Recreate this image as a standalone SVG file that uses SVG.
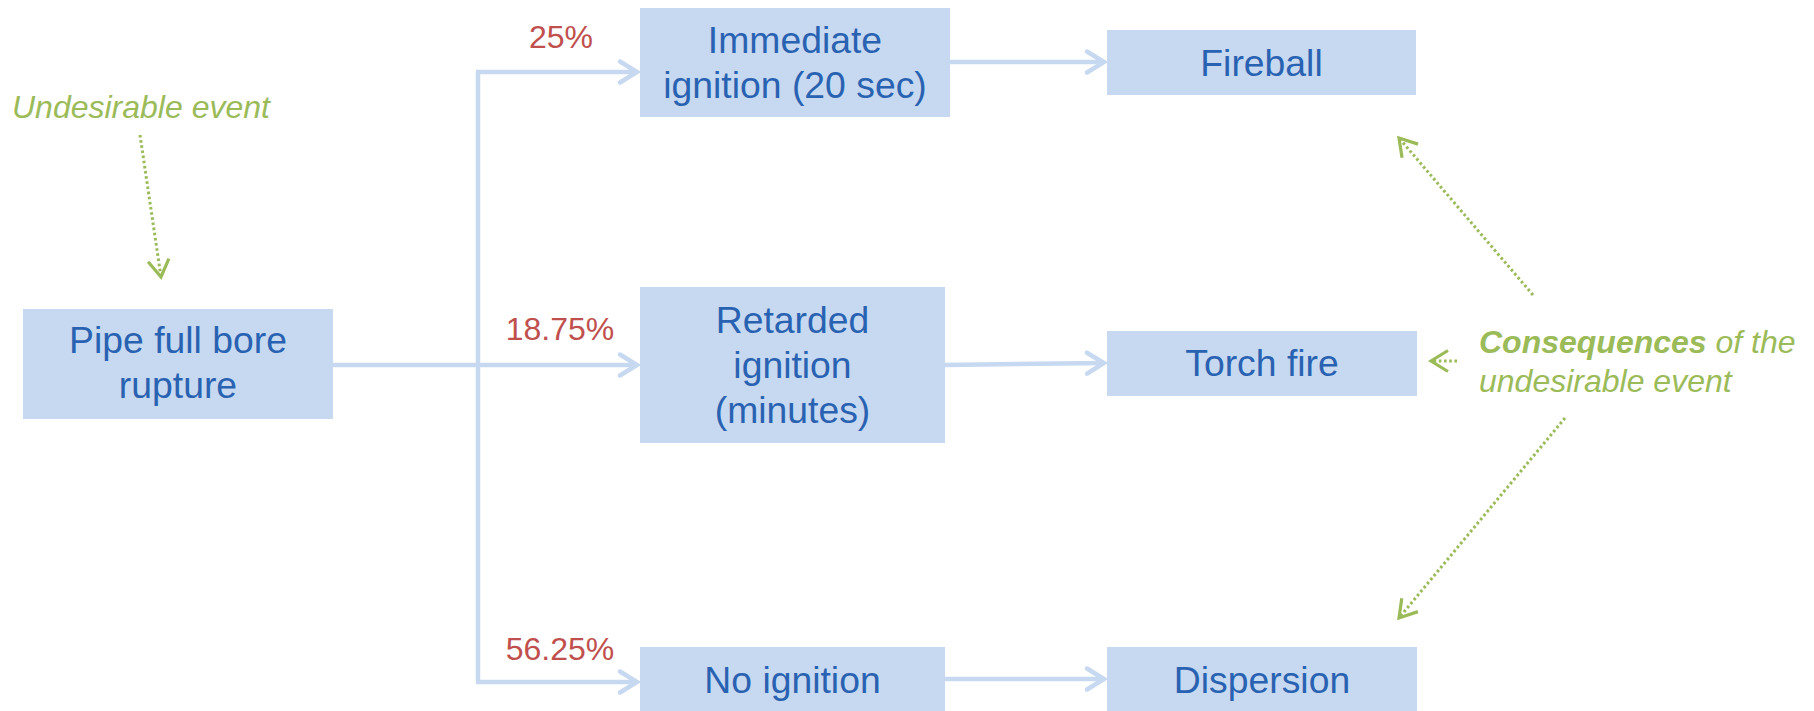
<svg xmlns="http://www.w3.org/2000/svg" width="1814" height="711" viewBox="0 0 1814 711">
<defs>
<style>
.box{fill:#C6D9F1;}
.nt{font-family:"Liberation Sans",Arial,sans-serif;font-size:37.33px;fill:#2A62B2;text-anchor:middle;}
.pct{font-family:"Liberation Sans",Arial,sans-serif;font-size:32px;fill:#C0504D;text-anchor:middle;}
.note{font-family:"Liberation Sans",Arial,sans-serif;font-size:32px;fill:#9BBB59;font-style:italic;}
.conn{fill:none;stroke:#C6D9F1;stroke-width:4.5;stroke-linejoin:miter;marker-end:url(#ah);}
.conn2{fill:none;stroke:#C6D9F1;stroke-width:4.5;stroke-linejoin:miter;}
.dot{fill:none;stroke:#9BBB59;stroke-width:3;stroke-dasharray:2.6 2.6;marker-end:url(#gh);}
</style>
<marker id="ah" markerUnits="userSpaceOnUse" orient="auto" markerWidth="40" markerHeight="40" refX="0" refY="0" viewBox="-25 -20 30 40" overflow="visible">
<path d="M -17 -10.5 L 0 0 L -17 10.5" fill="none" stroke="#C6D9F1" stroke-width="4.5" stroke-linecap="round"/>
</marker>
<marker id="gh" markerUnits="userSpaceOnUse" orient="auto" markerWidth="40" markerHeight="40" refX="0" refY="0" viewBox="-25 -20 30 40" overflow="visible">
<path d="M -17 -10.5 L 0 0 L -17 10.5" fill="none" stroke="#9BBB59" stroke-width="3.2"/>
</marker>
</defs>
<rect width="1814" height="711" fill="#FFFFFF"/>

<g id="connectors">
<path class="conn2" d="M 478 365 V 72"/>
<path class="conn2" d="M 478 365 V 682"/>
<path class="conn" d="M 476 72 H 637"/>
<path class="conn" d="M 333 365 H 637"/>
<path class="conn" d="M 476 682 H 637"/>
<path class="conn" d="M 950 62 H 1104"/>
<path class="conn" d="M 945 365 L 1104 363"/>
<path class="conn" d="M 945 679 H 1104"/>
<path class="dot" d="M 140 135 L 161 277"/>
<path class="dot" d="M 1533 295 L 1399 138"/>
<path class="dot" d="M 1457 361 L 1431 361"/>
<path class="dot" d="M 1565 418 L 1399 618"/>
</g>

<g id="pipe">
<rect class="box" x="23" y="309" width="310" height="110"/>
<text class="nt" x="178" y="353">Pipe full bore</text>
<text class="nt" x="178" y="398">rupture</text>
</g>

<g id="immediate">
<rect class="box" x="640" y="8" width="310" height="109"/>
<text class="nt" x="795" y="53">Immediate</text>
<text class="nt" x="795" y="98">ignition (20 sec)</text>
</g>

<g id="retarded">
<rect class="box" x="640" y="287" width="305" height="156"/>
<text class="nt" x="792.5" y="333">Retarded</text>
<text class="nt" x="792.5" y="378">ignition</text>
<text class="nt" x="792.5" y="423">(minutes)</text>
</g>

<g id="noignition">
<rect class="box" x="640" y="647" width="305" height="65"/>
<text class="nt" x="792.5" y="693">No ignition</text>
</g>

<g id="fireball">
<rect class="box" x="1107" y="30" width="309" height="65"/>
<text class="nt" x="1261.5" y="76">Fireball</text>
</g>

<g id="torchfire">
<rect class="box" x="1107" y="331" width="310" height="65"/>
<text class="nt" x="1262" y="376">Torch fire</text>
</g>

<g id="dispersion">
<rect class="box" x="1107" y="647" width="310" height="65"/>
<text class="nt" x="1262" y="693">Dispersion</text>
</g>

<g id="labels">
<text class="pct" x="561" y="48">25%</text>
<text class="pct" x="560" y="340">18.75%</text>
<text class="pct" x="560" y="660">56.25%</text>
</g>

<g id="undesirable">
<text class="note" x="12" y="118">Undesirable event</text>
</g>

<g id="consequences">
<text class="note" x="1479" y="353"><tspan font-weight="bold">Consequences</tspan> of the</text>
<text class="note" x="1479" y="392">undesirable event</text>
</g>
</svg>
